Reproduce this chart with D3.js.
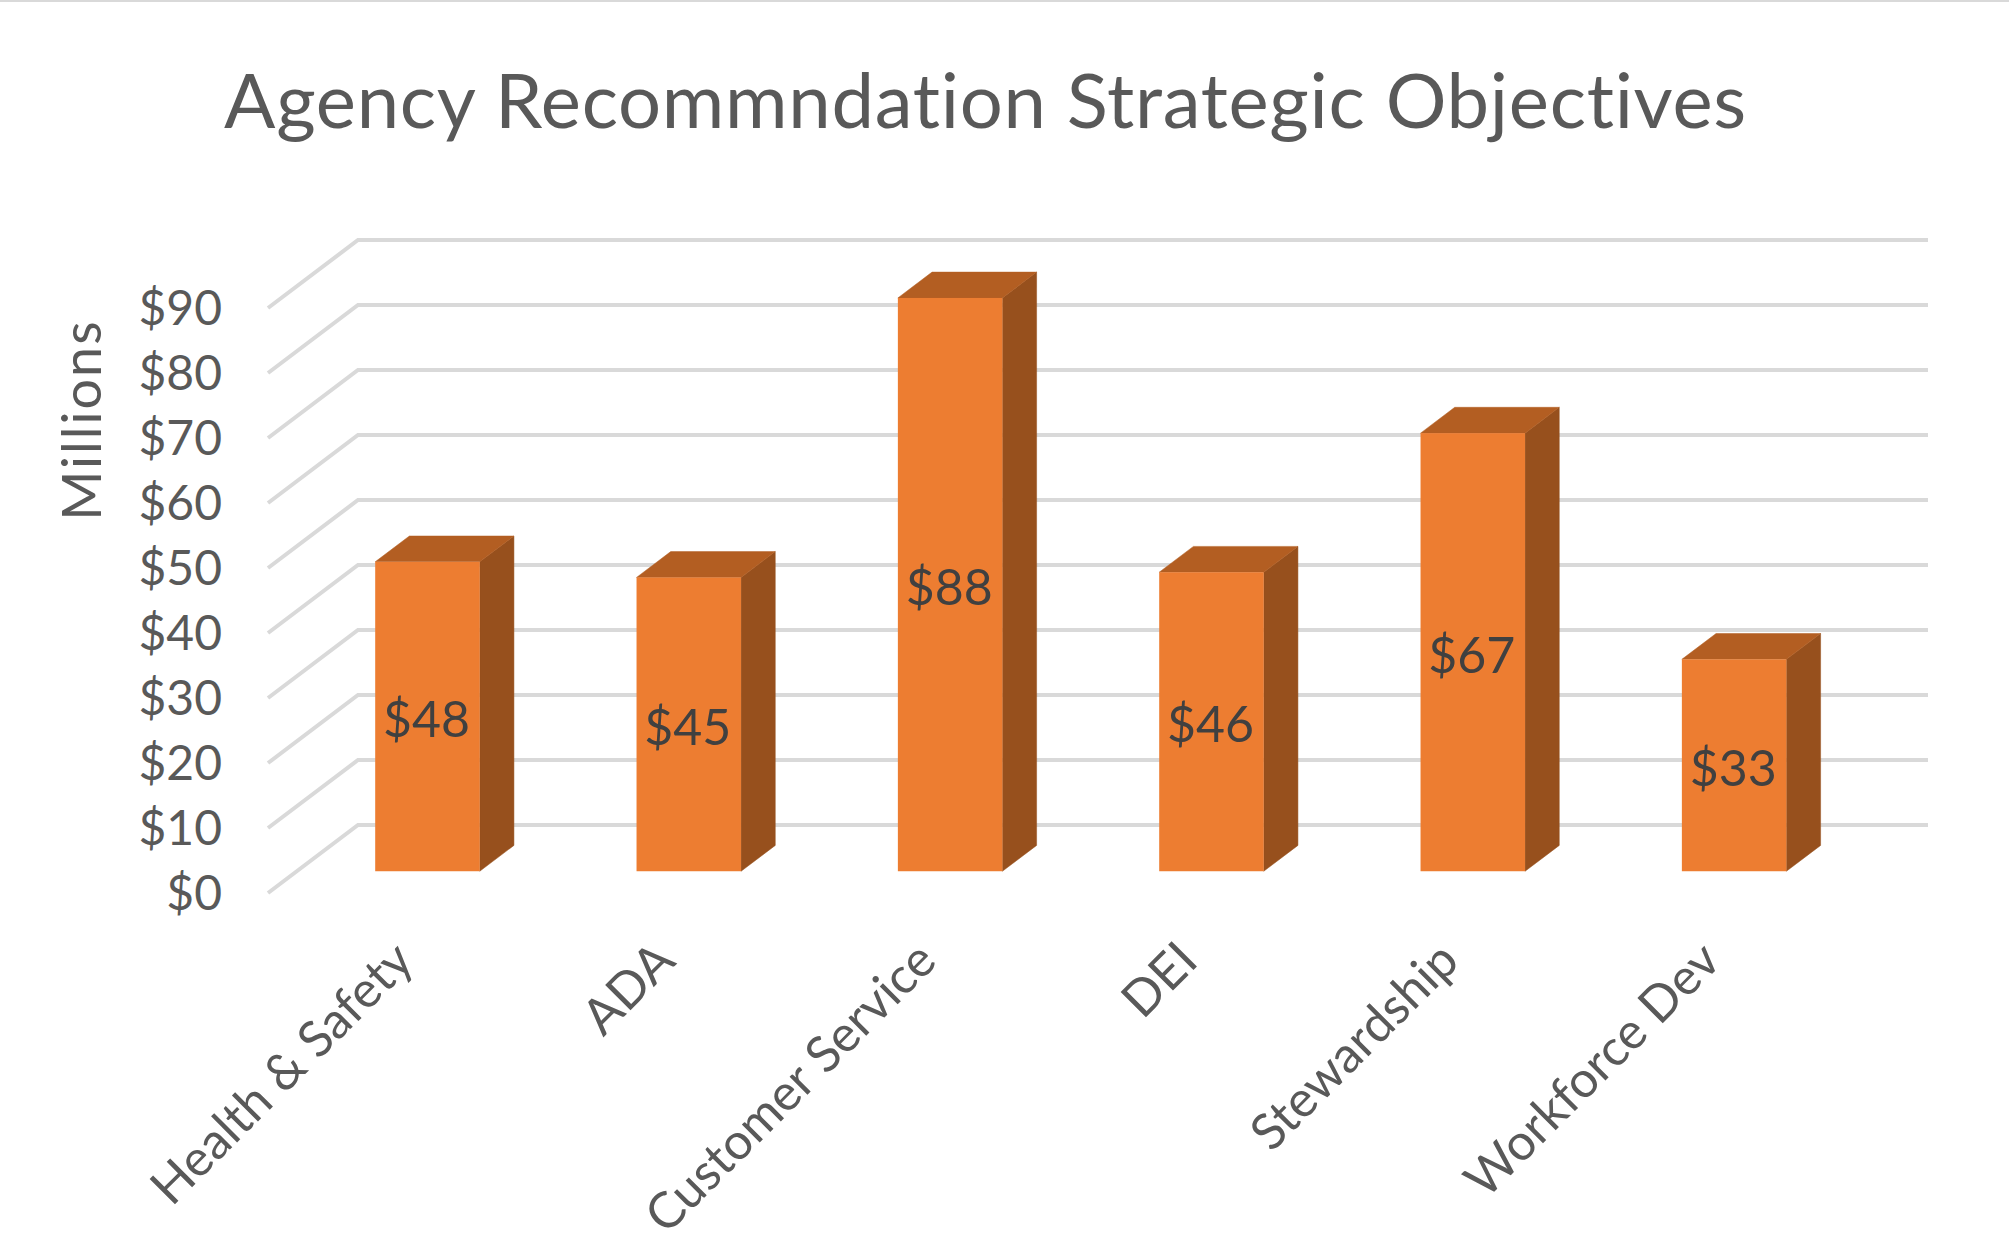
<!DOCTYPE html>
<html>
<head>
<meta charset="utf-8">
<script src="https://cdn.jsdelivr.net/npm/d3@7"></script>
<style>
  body { margin: 0; background: #fff; overflow: hidden; }
  text { font-family: Lato, "Open Sans", sans-serif; font-variant-ligatures: none; }
</style>
</head>
<body>
<div id="chart"></div>
<script>
const categories = ["Health & Safety", "ADA", "Customer Service", "DEI", "Stewardship", "Workforce Dev"];
const values = [47.6, 45.2, 88.2, 46, 67.4, 32.6];
const yTicks = [0, 10, 20, 30, 40, 50, 60, 70, 80, 90];
const titleText = "Agency Recommndation Strategic Objectives";
const yAxisTitle = "Millions";

const width = 2009, height = 1243;

// floor of the fake 3d box: how far the back wall sits from the front edge
const depthX = 90, depthY = 68;
const barFront = 0.32, barBack = 0.70;
const gridRight = 1928;

const svg = d3.select("#chart")
  .append("svg")
    .attr("width", width)
    .attr("height", height);

svg.append("rect")
  .attr("width", width)
  .attr("height", 2)
  .attr("fill", "#d9d9d9");

const xScale = d3.scaleBand()
  .domain(categories)
  .range([268, 1836])
  .paddingInner(0.6)
  .paddingOuter(0.3);

const yScale = d3.scaleLinear()
  .domain([0, 90])
  .range([893, 308]);

// point on the chart, depth 0 = front edge, 1 = back wall
const px = (x, depth) => x + depth * depthX;
const py = (v, depth) => yScale(v) - depth * depthY;

// gridlines run along the side wall and then across the back
const line = d3.line();
svg.selectAll(".grid")
  .data(yTicks)
  .enter()
  .append("path")
    .attr("class", "grid")
    .attr("fill", "none")
    .attr("stroke", "#d9d9d9")
    .attr("stroke-width", 4)
    .attr("d", d => line([
      [xScale.range()[0], py(d, 0)],
      [px(xScale.range()[0], 1), py(d, 1)],
      [gridRight, py(d, 1)]
    ]));

const bars = svg.selectAll(".bar")
  .data(categories.map((c, i) => ({ category: c, value: values[i] })))
  .enter()
  .append("g")
    .attr("class", "bar");

const left = d => px(xScale(d.category), barFront);
const right = d => left(d) + xScale.bandwidth();
const shiftX = (barBack - barFront) * depthX;
const shiftY = (barBack - barFront) * depthY;

bars.append("path")
  .attr("fill", "#97501d")
  .attr("stroke", "#97501d")
  .attr("stroke-width", 0.5)
  .attr("d", d => {
    const top = py(d.value, barFront), bottom = py(0, barFront);
    return line([[right(d), top], [right(d) + shiftX, top - shiftY],
      [right(d) + shiftX, bottom - shiftY], [right(d), bottom]]) + "Z";
  });

bars.append("path")
  .attr("fill", "#b35e22")
  .attr("stroke", "#b35e22")
  .attr("stroke-width", 0.5)
  .attr("d", d => {
    const top = py(d.value, barFront);
    return line([[left(d), top], [left(d) + shiftX, top - shiftY],
      [right(d) + shiftX, top - shiftY], [right(d), top]]) + "Z";
  });

bars.append("rect")
  .attr("fill", "#ed7d31")
  .attr("x", left)
  .attr("y", d => py(d.value, barFront))
  .attr("width", xScale.bandwidth())
  .attr("height", d => py(0, barFront) - py(d.value, barFront));

bars.append("text")
  .attr("x", d => left(d) + xScale.bandwidth() / 2 - 1)
  .attr("y", d => (py(d.value, barFront) + py(0, barFront)) / 2 + 3)
  .attr("dy", "0.35em")
  .attr("text-anchor", "middle")
  .attr("fill", "#404040")
  .attr("font-size", 50)
  .text(d => d3.format("$.0f")(d.value));

const yAxis = d3.axisLeft(yScale)
  .tickValues(yTicks)
  .tickSize(0)
  .tickPadding(0)
  .tickFormat(d3.format("$.0f"));

svg.append("g")
  .attr("class", "y-axis")
  .attr("transform", "translate(222,1)")
  .call(yAxis)
  .call(g => g.select(".domain").remove())
  .selectAll("text")
    .attr("fill", "#595959")
    .attr("font-size", 48);

const xAxis = d3.axisBottom(xScale)
  .tickSize(0)
  .tickPadding(0);

svg.append("g")
  .attr("class", "x-axis")
  .attr("transform", "translate(0,951)")
  .call(xAxis)
  .call(g => g.select(".domain").remove())
  .selectAll("text")
    .attr("fill", "#595959")
    .attr("font-size", 50)
    .attr("text-anchor", "end")
    .attr("dy", "0.35em")
    .attr("transform", "translate(5,0) rotate(-45)");

svg.append("text")
  .attr("x", 224)
  .attr("y", 128)
  .attr("fill", "#595959")
  .attr("font-size", 76)
  .attr("letter-spacing", 0.72)
  .text(titleText);

svg.append("text")
  .attr("transform", "translate(101,420) rotate(-90)")
  .attr("text-anchor", "middle")
  .attr("fill", "#595959")
  .attr("font-size", 54)
  .attr("letter-spacing", 2)
  .text(yAxisTitle);
</script>
</body>
</html>
